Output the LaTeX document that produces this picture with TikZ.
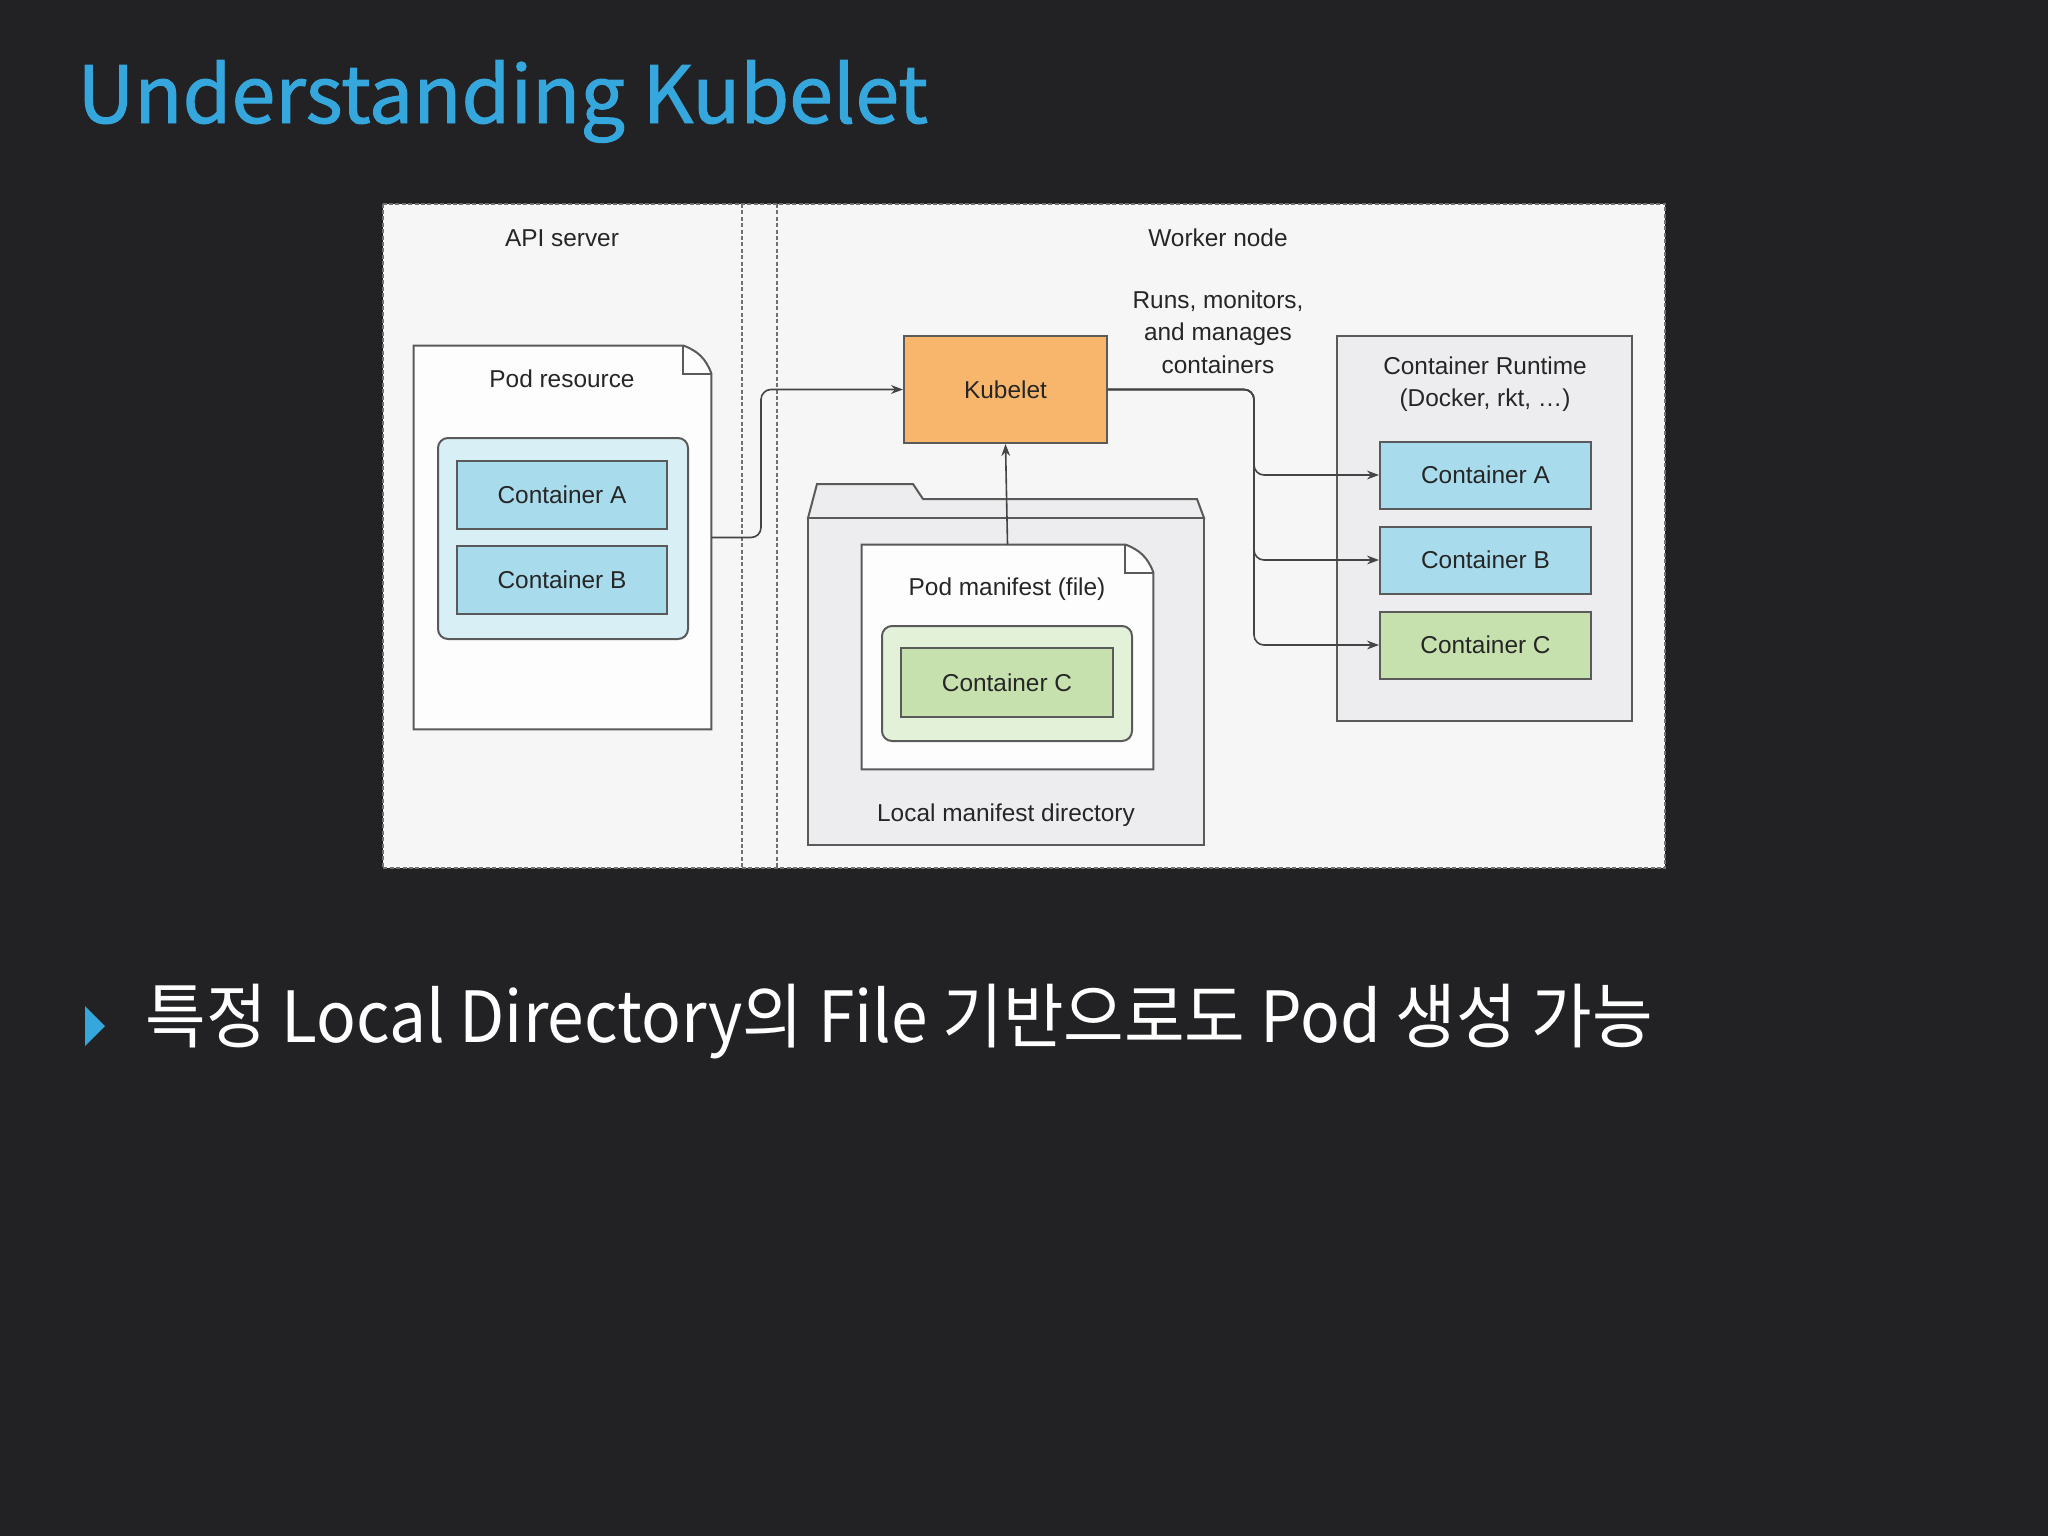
\documentclass[tikz,border=0pt]{standalone}
\usepackage{fontspec}
\usepackage{graphicx}
\setmainfont{Liberation Sans}
\newfontfamily\krfont{Noto Sans CJK KR}
\newfontfamily\titlefont[FakeBold=1.2]{Noto Sans CJK KR}
\usetikzlibrary{arrows.meta}
\definecolor{slidebg}{HTML}{222224}
\definecolor{titleblue}{HTML}{35A7DD}
\definecolor{diagbg}{HTML}{F6F6F6}
\definecolor{docfill}{HTML}{FDFDFD}
\definecolor{edge}{HTML}{5A5A5A}
\definecolor{dashgray}{HTML}{707070}
\definecolor{connc}{HTML}{444444}
\definecolor{cblue}{HTML}{A8DCEC}
\definecolor{podblue}{HTML}{D9EFF6}
\definecolor{korange}{HTML}{F8B66C}
\definecolor{cgreen}{HTML}{C6E1AE}
\definecolor{podgreen}{HTML}{E3F1D9}
\definecolor{rtfill}{HTML}{EDEDF0}
\definecolor{txtgray}{HTML}{262626}
\begin{document}
\begin{tikzpicture}[x=0.5pt,y=-0.5pt,
  dfont/.style={font=\fontsize{12.2pt}{16.2pt}\selectfont, text=txtgray},
  lbl/.style={dfont, inner sep=0pt, align=center},
  cbox/.style={draw=edge, line width=1pt, minimum width=105pt, minimum height=34pt, inner sep=0pt, dfont},
  blueC/.style={cbox, fill=cblue},
  greenC/.style={cbox, fill=cgreen},
  podbox/.style={draw=edge, line width=1pt, rounded corners=5pt, inner sep=0pt},
  frameln/.style={draw=dashgray, line width=1pt, dash pattern=on 2pt off 1.2pt},
  shapeln/.style={draw=edge, line width=1pt},
  ghost/.style={draw=none, inner sep=0pt},
  conn/.style={draw=connc, line width=0.8pt, rounded corners=5pt, -{Stealth[length=6pt,width=4.4pt]}},
]
\fill[slidebg] (0,0) rectangle (2048,1536);
\useasboundingbox (0,0) rectangle (2048,1536);

% title
\node[anchor=base west, inner sep=0pt, text=titleblue, font=\titlefont\fontsize{39.5pt}{44pt}\selectfont] (title) at (77,123) {Understanding Kubelet};

% diagram frame
\node[ghost, fill=diagbg, minimum width=641pt, minimum height=332pt] (diagram) at (1024,536) {};
\draw[frameln] (diagram.north west) rectangle (diagram.south east);
\draw[frameln] (742,204) -- (742,868);
\draw[frameln] (777,204) -- (777,868);

% API server side
\node[lbl] (apilbl) at (562,238) {API server};
\node[ghost, minimum width=148.5pt, minimum height=191.5pt] (podres) at (562.5,537.5) {};
\draw[shapeln, fill=docfill] (podres.south west) -- (podres.north west) -- ([xshift=-14pt]podres.north east) to[bend left=25] ([yshift=-14pt]podres.north east) -- (podres.south east) -- cycle;
\draw[shapeln] ([xshift=-14pt]podres.north east) -- ([xshift=-14pt,yshift=-14pt]podres.north east) -- ([yshift=-14pt]podres.north east);
\node[lbl] (podreslbl) at (562,379) {Pod resource};
\node[podbox, fill=podblue, minimum width=125pt, minimum height=100.5pt] (podA) at (563,538.5) {};
\node[blueC] (cA1) at (562,495) {Container A};
\node[blueC] (cB1) at (562,580) {Container B};

% worker node side
\node[lbl] (worklbl) at (1218,238) {Worker node};
\node[lbl] (runslbl) at (1218,332) {Runs, monitors,\\and manages\\containers};
\node[cbox, fill=korange, minimum width=101.5pt, minimum height=53.5pt] (kub) at (1005.5,389.5) {Kubelet};

% folder
\draw[shapeln, fill=rtfill] (808,518) -- (817,484) -- (913,484) -- (923,499) -- (1197,499) -- (1204,518) -- cycle;
\node[draw=edge, line width=1pt, fill=rtfill, minimum width=198pt, minimum height=163.5pt, inner sep=0pt] (folder) at (1006,681.5) {};
\node[lbl] (folderlbl) at (1006,815) {Local manifest directory};
\node[ghost, minimum width=145.5pt, minimum height=112pt] (manif) at (1007.5,657) {};
\draw[shapeln, fill=docfill] (manif.south west) -- (manif.north west) -- ([xshift=-14pt]manif.north east) to[bend left=25] ([yshift=-14pt]manif.north east) -- (manif.south east) -- cycle;
\draw[shapeln] ([xshift=-14pt]manif.north east) -- ([xshift=-14pt,yshift=-14pt]manif.north east) -- ([yshift=-14pt]manif.north east);
\node[lbl] (maniflbl) at (1007,589) {Pod manifest (file)};
\node[podbox, fill=podgreen, minimum width=125pt, minimum height=57.5pt] (podC) at (1007,683.5) {};
\node[greenC, minimum width=106pt, minimum height=34.5pt] (cC1) at (1007,682.5) {Container C};

% container runtime
\node[draw=edge, line width=1pt, fill=rtfill, minimum width=147.5pt, minimum height=192.5pt, inner sep=0pt] (rt) at (1484.5,528.5) {};
\node[lbl] (rtlbl) at (1485,384) {Container Runtime\\(Docker, rkt, \dots)};
\node[blueC, minimum width=105.5pt, minimum height=33.5pt] (cA2) at (1485.5,475) {Container A};
\node[blueC, minimum width=105.5pt, minimum height=33.5pt] (cB2) at (1485.5,560) {Container B};
\node[greenC, minimum width=105.5pt, minimum height=33.5pt] (cC2) at (1485.5,645) {Container C};

% connectors
\coordinate (jl) at (761,400);
\coordinate (jr) at (1254,400);
\draw[conn] (podres.east) -- (podres.east -| jl) -- (kub.west -| jl) -- (kub.west);
\draw[conn] (manif.north) -- (kub.south);
\foreach \c in {cA2,cB2,cC2}
  \draw[conn] (kub.east) -- (kub.east -| jr) -- (\c.west -| jr) -- (\c.west);

% bullet
\fill[titleblue] (85,1006) -- (105,1026) -- (85,1046) -- cycle;
\node[anchor=base west, inner sep=0pt, text=white, font=\krfont\fontsize{35.3pt}{40pt}\selectfont] (bullet) at (145,1042) {\scalebox{0.933}[1]{특정 Local Directory의 File 기반으로도 Pod 생성 가능}};
\end{tikzpicture}
\end{document}
